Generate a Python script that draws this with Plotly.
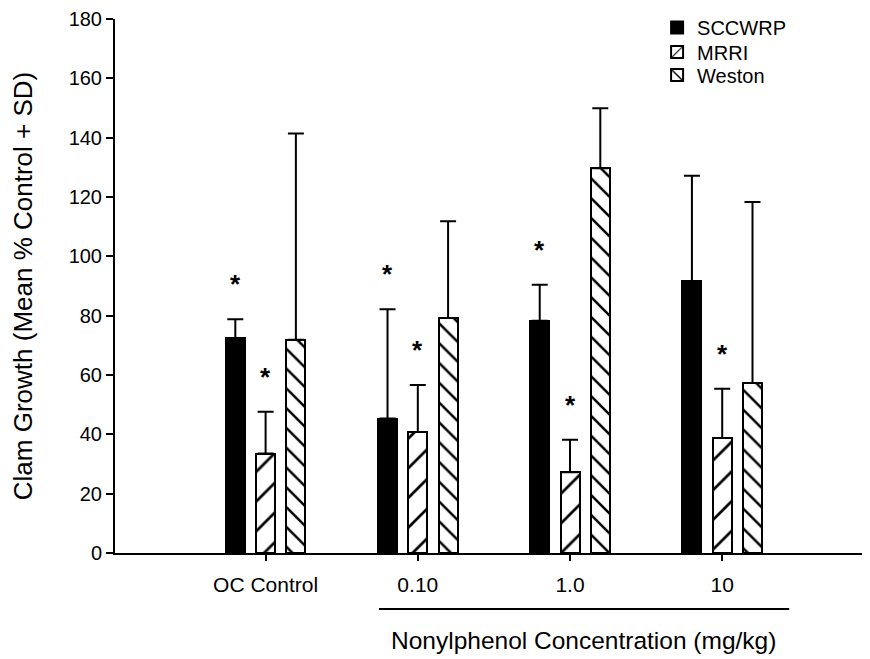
import plotly.graph_objects as go
import numpy as np

# ---------------- data ----------------
categories = ["OC Control", "0.10", "1.0", "10"]
series_names = ["SCCWRP", "MRRI", "Weston"]

sccwrp_mean = [72.5, 45.3, 78.3, 91.7]
sccwrp_sd = [6.3, 36.9, 12.1, 35.5]
mrri_mean = [33.5, 40.8, 27.2, 38.8]
mrri_sd = [14.1, 15.8, 11.0, 16.6]
weston_mean = [71.9, 79.2, 129.7, 57.3]
weston_sd = [69.5, 32.6, 20.2, 61.0]

# significance markers (*)
sccwrp_sig = [True, True, True, False]
mrri_sig = [True, True, True, True]
weston_sig = [False, False, False, False]

y_ticks = [0, 20, 40, 60, 80, 100, 120, 140, 160, 180]

x_title = "Nonylphenol Concentration (mg/kg)"
y_title = "Clam Growth (Mean % Control + SD)"

# ---------------- styling ----------------
FONT = "Arial, 'Liberation Sans', Helvetica, sans-serif"
bar_width = 0.125
bar_step = 0.199
styles = [
    dict(color="black", pattern=None),
    dict(color="white", pattern=dict(shape="/", size=21, solidity=0.13,
                                     fgcolor="black", fgopacity=1, bgcolor="white",
                                     fillmode="replace")),
    dict(color="white", pattern=dict(shape="\\", size=14, solidity=0.18,
                                     fgcolor="black", fgopacity=1, bgcolor="white",
                                     fillmode="replace")),
]
legend_ids = ["legend", "legend2", "legend3"]
legend_y = [0.985, 0.938, 0.895]

means = [sccwrp_mean, mrri_mean, weston_mean]
sds = [sccwrp_sd, mrri_sd, weston_sd]
sigs = [sccwrp_sig, mrri_sig, weston_sig]

pos = np.arange(len(categories))

fig = go.Figure()
annotations = []
for k, name in enumerate(series_names):
    xs = pos + (k - 1) * bar_step
    marker = dict(color=styles[k]["color"], line=dict(color="black", width=2))
    if styles[k]["pattern"] is not None:
        marker["pattern"] = styles[k]["pattern"]
    fig.add_trace(go.Bar(
        x=xs, y=means[k], name=name, width=bar_width, marker=marker,
        legend=legend_ids[k],
        error_y=dict(type="data", symmetric=False, array=sds[k],
                     arrayminus=[0] * len(sds[k]), color="black",
                     thickness=2, width=8),
    ))
    for xi, m, s, sig in zip(xs, means[k], sds[k], sigs[k]):
        if sig:
            annotations.append(dict(
                x=xi, y=m + s, xref="x", yref="y", text="*", showarrow=False,
                yanchor="bottom", yshift=18,
                font=dict(family=FONT, size=26, color="black", weight="bold"),
            ))

# x-axis title as annotation centred under the concentration groups
annotations.append(dict(
    x=2.09, y=-0.163, xref="x", yref="paper", text=x_title, showarrow=False,
    xanchor="center", yanchor="middle",
    font=dict(family=FONT, size=24.5, color="black"),
))

legend_common = dict(x=0.718, xanchor="left", yanchor="middle",
                     font=dict(family=FONT, size=20, color="black"),
                     bgcolor="rgba(0,0,0,0)", itemwidth=30)

fig.update_layout(
    width=862, height=651, autosize=False,
    margin=dict(l=107, r=0, t=11, b=106, pad=0),
    paper_bgcolor="white", plot_bgcolor="white",
    font=dict(family=FONT, color="black"),
    showlegend=True,
    legend=dict(y=legend_y[0], **legend_common),
    legend2=dict(y=legend_y[1], **legend_common),
    legend3=dict(y=legend_y[2], **legend_common),
    annotations=annotations,
    shapes=[dict(type="line", xref="x", yref="paper", x0=0.745, x1=3.44,
                 y0=-0.105, y1=-0.105, line=dict(color="black", width=2))],
    bargap=0,
)

fig.update_xaxes(
    range=[-0.9895, 3.971], tickvals=list(pos), ticktext=categories,
    showline=True, linecolor="black", linewidth=2,
    ticks="outside", ticklen=6, tickwidth=2, tickcolor="black",
    tickfont=dict(family=FONT, size=21, color="black"),
    ticklabelstandoff=6,
    showgrid=False, zeroline=False, fixedrange=True,
)
fig.update_yaxes(
    range=[0, 180], tickvals=y_ticks,
    showline=True, linecolor="black", linewidth=2,
    ticks="outside", ticklen=7, tickwidth=2, tickcolor="black",
    tickfont=dict(family=FONT, size=20, color="black"),
    showgrid=False, zeroline=False, fixedrange=True,
    title=dict(text=y_title, font=dict(family=FONT, size=26, color="black"), standoff=30),
    automargin=False,
)

fig.write_html("out.html")
